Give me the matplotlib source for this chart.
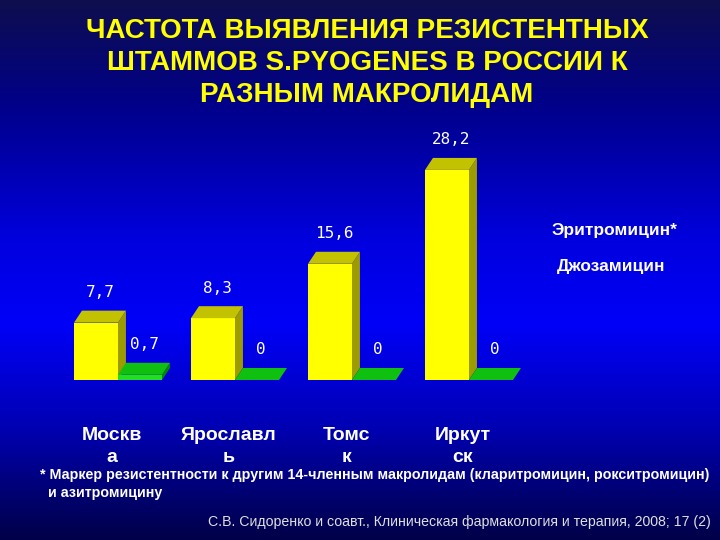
import numpy as np
import matplotlib
matplotlib.use("Agg")
import matplotlib.pyplot as plt
from matplotlib.patches import Polygon
from matplotlib.colors import LinearSegmentedColormap

# ---- data ----
cities = ["Москв\nа", "Ярославл\nь", "Томс\nк", "Иркут\nск"]
erythromycin = [7.7, 8.3, 15.6, 28.2]
josamycin = [0.7, 0, 0, 0]
series_names = ["Эритромицин*", "Джозамицин"]
title = "ЧАСТОТА ВЫЯВЛЕНИЯ РЕЗИСТЕНТНЫХ\nШТАММОВ S.PYOGENES В РОССИИ К\nРАЗНЫМ МАКРОЛИДАМ"
footnote = ("* Маркер резистентности к другим 14-членным макролидам (кларитромицин, рокситромицин)\n"
            "  и азитромицину")
source = "С.В. Сидоренко и соавт., Клиническая фармакология и терапия, 2008; 17 (2)"


def fmt(v):
    return "0" if v == 0 else f"{v:.1f}".replace(".", ",")


W, H = 720, 540
fig = plt.figure(figsize=(7.2, 5.4), dpi=100)

# background gradient
bg = fig.add_axes([0, 0, 1, 1])
bg.set_axis_off()
cmap = LinearSegmentedColormap.from_list(
    "bg",
    [(0.0, "#0e0e4e"), (0.2, "#00008c"), (0.45, "#0000e0"), (0.6, "#0000f8"),
     (0.8, "#0000b0"), (0.92, "#000070"), (1.0, "#00004a")])
grad = np.linspace(0, 1, 540).reshape(-1, 1)
bg.imshow(grad, aspect="auto", cmap=cmap, extent=[0, 1, 0, 1], origin="upper")
bg.set_xlim(0, 1)
bg.set_ylim(0, 1)

# chart axes
ax = fig.add_axes([40 / W, (H - 380) / H, 600 / W, 223.5 / H])
ax.set_xlim(-0.2906, 4.8376)
ax.set_ylim(0, 30)
ax.set_axis_off()
ax.patch.set_alpha(0)

BW = 0.376
DX = 0.068
DY = 1.61

YEL_F, YEL_T, YEL_S = "#ffff00", "#c2c200", "#9c9c00"
GRN_F, GRN_T, GRN_S = "#22dd22", "#10c010", "#008a00"


def bar3d(x0, h, cf, ct, cs, z):
    ax.bar([x0], [h], width=BW, align="edge", color=cf, linewidth=0, zorder=z)
    side = Polygon([(x0 + BW, 0), (x0 + BW + DX, DY), (x0 + BW + DX, h + DY), (x0 + BW, h)],
                   closed=True, facecolor=cs, edgecolor="none", zorder=z, clip_on=False)
    top = Polygon([(x0, h), (x0 + BW, h), (x0 + BW + DX, h + DY), (x0 + DX, h + DY)],
                  closed=True, facecolor=ct, edgecolor="none", zorder=z, clip_on=False)
    ax.add_patch(side)
    ax.add_patch(top)


for i, (e, j) in enumerate(zip(erythromycin, josamycin)):
    x_e = i
    x_j = i + BW
    bar3d(x_e, e, YEL_F, YEL_T, YEL_S, 2 + i * 2)
    bar3d(x_j, j, GRN_F, GRN_T, GRN_S, 3 + i * 2)
    ax.annotate(fmt(e), (x_e + BW / 2 + DX / 2, e + DY), xytext=(0, 13),
                textcoords="offset points", ha="center", va="center",
                color="white", fontsize=11.5, family="DejaVu Sans Mono", zorder=20)
    ax.annotate(fmt(j), (x_j + BW / 2 + DX / 2, j + DY), xytext=(0, 13),
                textcoords="offset points", ha="center", va="center",
                color="white", fontsize=11.5, family="DejaVu Sans Mono", zorder=20)
    ax.text(i + BW - 0.051, -8.93, cities[i], ha="center", va="center",
            color="white", fontsize=14, fontweight="bold", family="Liberation Sans",
            linespacing=1.45, clip_on=False)

# title
fig.text(367 / W, 1 - 62.5 / H, title, ha="center", va="center", color="#ffff00",
         fontsize=20, fontweight="bold", family="Liberation Sans", linespacing=1.3)

# series labels
fig.text(552 / W, 1 - 231 / H, series_names[0], ha="left", va="center", color="white",
         fontsize=12.5, fontweight="bold", family="Liberation Sans")
fig.text(557 / W, 1 - 266 / H, series_names[1], ha="left", va="center", color="white",
         fontsize=12.5, fontweight="bold", family="Liberation Sans")

# footnote and source
fig.text(40 / W, 1 - 484 / H, footnote, ha="left", va="center", color="white",
         fontsize=10.3, fontweight="bold", family="Liberation Sans",
         linespacing=1.3)
fig.text(711 / W, 1 - 522 / H, source, ha="right", va="center", color="#e0e0e0",
         fontsize=10.2, family="Liberation Sans")

fig.savefig("out.png", dpi=100)
